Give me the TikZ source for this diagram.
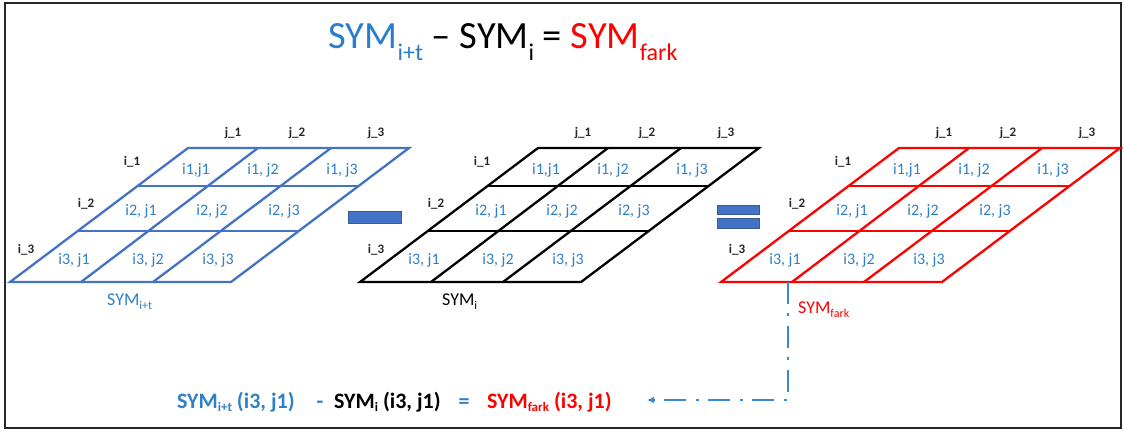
\documentclass[tikz,border=0pt]{standalone}
\usepackage{fontspec}
\setmainfont{Carlito}
\usetikzlibrary{arrows.meta}
\definecolor{gridblue}{HTML}{4472C4}
\definecolor{txtblue}{HTML}{2E80C8}
\definecolor{titleblue}{HTML}{2A7DCA}
\definecolor{myred}{HTML}{FF0000}
\definecolor{flowblue}{HTML}{3A8AD2}
\newcommand{\lowsub}[3]{\raisebox{#1}{\fontsize{#2}{#2}\selectfont #3}}
\tikzset{
  gline/.style={line width=2.3pt, line join=miter},
  cell/.style={font=\fontsize{16}{16}\selectfont, text=txtblue, inner sep=0pt},
  idx/.style={font=\fontsize{13}{13}\selectfont\bfseries, text=black!85, inner sep=0pt},
  gname/.style={font=\fontsize{18}{18}\selectfont, inner sep=0pt, anchor=base west},
  btxt/.style={font=\fontsize{22}{22}\selectfont\bfseries, inner sep=0pt, anchor=base west},
  opbar/.style={fill=gridblue, draw=gridblue!80!black, line width=0.4pt},
  flow/.style={draw=flowblue, line width=2pt, dash pattern=on 22pt off 9pt on 3pt off 10pt, -{Latex[length=7pt,width=7pt]}},
  frame/.style={draw=black!85, line width=2pt}
}
% #1 xshift, #2 line colour, #3 prefix
\newcommand{\mygrid}[3]{%
  \begin{scope}[xshift=#1pt]
    \draw[gline, draw=#2] (188,148) -- (409,148) -- (231,282) -- (10,282) -- cycle;
    \draw[gline, draw=#2] (137.5,186) -- (358.5,186);
    \draw[gline, draw=#2] (77.7,231) -- (298.7,231);
    \draw[gline, draw=#2] (258,148) -- (81,282);
    \draw[gline, draw=#2] (331,148) -- (153,282);
    \node[idx] (#3j1) at (233,133) {j\_1};
    \node[idx] (#3j2) at (297,133) {j\_2};
    \node[idx] (#3j3) at (376,133) {j\_3};
    \node[idx] (#3i1) at (132,162) {i\_1};
    \node[idx] (#3i2) at (86,204) {i\_2};
    \node[idx] (#3i3) at (26,250) {i\_3};
    \node[cell] (#3c11) at (196,170) {i1,j1};
    \node[cell] (#3c12) at (263,170) {i1, j2};
    \node[cell] (#3c13) at (342,170) {i1, j3};
    \node[cell] (#3c21) at (141,211) {i2, j1};
    \node[cell] (#3c22) at (212,211) {i2, j2};
    \node[cell] (#3c23) at (284,211) {i2, j3};
    \node[cell] (#3c31) at (74,260) {i3, j1};
    \node[cell] (#3c32) at (148,260) {i3, j2};
    \node[cell] (#3c33) at (218,260) {i3, j3};
  \end{scope}}
\begin{document}
\begin{tikzpicture}[x=1pt,y=-1pt]
\useasboundingbox (0,0) rectangle (1124,432);
\draw[frame] (5,2.5) rectangle (1121,428);

% title
\node[inner sep=0pt, anchor=base, font=\fontsize{38.5}{38.5}\selectfont] (title) at (503,48)
  {{\color{titleblue}SYM\lowsub{-12pt}{24}{i+t}} – SYM\lowsub{-12pt}{24}{i} = {\color{myred}SYM\lowsub{-12pt}{24}{fark}}};

% grids
\mygrid{0}{gridblue}{a}
\mygrid{350}{black}{b}
\mygrid{711}{myred}{c}

% operators
\fill[opbar] (348,211) rectangle (401,223);
\fill[opbar] (717,205) rectangle (759,214);
\fill[opbar] (717,218) rectangle (759,228);

% grid names
\node[gname, text=txtblue] (na) at (107,305) {SYM\lowsub{-4pt}{12}{i+t}};
\node[gname, text=black] (nb) at (442,305) {SYM\lowsub{-4pt}{12}{i}};
\node[gname, text=myred] (nc) at (798,313) {SYM\lowsub{-4pt}{12}{fark}};

% bottom equation
\node[btxt, text=txtblue] (e1) at (177,408) {SYM\lowsub{-3pt}{13}{i+t} (i3, j1)};
\node[btxt, text=txtblue, anchor=base] (e2) at (320,408) {-};
\node[btxt, text=black] (e3) at (334,408) {SYM\lowsub{-3pt}{13}{i} (i3, j1)};
\node[btxt, text=txtblue, anchor=base] (e4) at (464,408) {=};
\node[btxt, text=myred] (e5) at (487,408) {SYM\lowsub{-3pt}{13}{fark} (i3, j1)};

% connector
\coordinate (src) at (788,282);
\coordinate (arrEnd) at (647,400);
\draw[flow] (src) |- (arrEnd);
\end{tikzpicture}
\end{document}
